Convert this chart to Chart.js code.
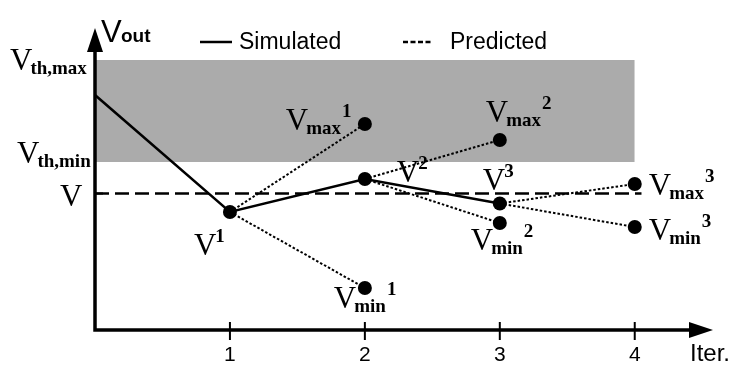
<!DOCTYPE html>
<html>
<head>
<meta charset="utf-8">
<script src="https://cdn.jsdelivr.net/npm/chart.js@4/dist/chart.umd.min.js"></script>
<style>
  html,body{margin:0;padding:0;background:#fff;}
  #wrap{width:739px;height:370px;}
</style>
</head>
<body>
<div id="wrap"><canvas id="grafico"></canvas></div>
<script>
// valores (unidades arbitrarias de Vout)
var iteraciones = [0, 1, 2, 3];
var simulado = [23.5, 11.8, 15.1, 12.65];
var iterPrediccion = [2, 3, 4];
var predMax = [20.6, 19.0, 14.6];
var predMin = [4.2, 10.7, 10.3];
var vThMax = 27.0;
var vThMin = 16.8;
var vObjetivo = 13.65;
var ticksX = [1, 2, 3, 4];
var finBanda = 4;
var finObjetivo = 4.05;

// desplazamientos de las etiquetas respecto a cada punto (px)
var offSim = [[-36, 43], [32, 3], [-17, -14]];
var offMax = [[-79, 6], [-14, -18], [14, 11]];
var offMin = [[-31, 20], [-29, 27], [14, 13]];

var serif = '"Liberation Serif","Times New Roman",serif';
var sans = '"Liberation Sans",Arial,sans-serif';

function pares(xs, ys){
    var res = [];
    for(var i=0;i<xs.length;i++){ res.push({x:xs[i], y:ys[i]}); }
    return res;
}

var datasets = [];
// puntos
var puntos = [];
for(var i=1;i<iteraciones.length;i++){ puntos.push({x:iteraciones[i], y:simulado[i]}); }
for(var i=0;i<iterPrediccion.length;i++){
    puntos.push({x:iterPrediccion[i], y:predMax[i]});
    puntos.push({x:iterPrediccion[i], y:predMin[i]});
}
datasets.push({data:puntos, showLine:false, pointRadius:7, pointBackgroundColor:"#000", pointBorderWidth:0, order:0});
// simulado
datasets.push({data:pares(iteraciones, simulado), showLine:true, borderColor:"#000", borderWidth:2.5, pointRadius:0, order:1});
// segmentos predichos
for(var i=0;i<iterPrediccion.length;i++){
    var origen = {x:iteraciones[i+1], y:simulado[i+1]};
    datasets.push({data:[origen, {x:iterPrediccion[i], y:predMax[i]}], showLine:true, borderColor:"#000", borderWidth:2, borderDash:[2.5,2], pointRadius:0, order:2});
    datasets.push({data:[origen, {x:iterPrediccion[i], y:predMin[i]}], showLine:true, borderColor:"#000", borderWidth:2, borderDash:[2.5,2], pointRadius:0, order:2});
}
// linea objetivo V
datasets.push({data:[{x:0,y:vObjetivo},{x:finObjetivo,y:vObjetivo}], showLine:true, borderColor:"#000", borderWidth:2.5, borderDash:[14,6], pointRadius:0, order:3});
// banda gris
datasets.push({data:[{x:0,y:vThMax},{x:finBanda,y:vThMax}], showLine:true, borderWidth:0, borderColor:"rgba(0,0,0,0)", backgroundColor:"#ababab", fill:"+1", pointRadius:0, order:10});
datasets.push({data:[{x:0,y:vThMin},{x:finBanda,y:vThMin}], showLine:true, borderWidth:0, borderColor:"rgba(0,0,0,0)", pointRadius:0, fill:false, order:10});

function dibujaV(ctx, x, base, sub, sup){
    ctx.fillStyle = "#000";
    ctx.textAlign = "left";
    ctx.textBaseline = "alphabetic";
    ctx.font = "31px " + serif;
    ctx.fillText("V", x, base);
    var xx = x + ctx.measureText("V").width - 2;
    if(sub){
        ctx.font = "bold 19px " + serif;
        ctx.fillText(sub, xx, base + 4);
        xx += ctx.measureText(sub).width + 1;
    } else {
        xx += 1;
    }
    if(sup){
        ctx.font = "bold 19px " + serif;
        ctx.fillText(sup, xx, base - 13);
    }
}

var decoracion = {
    id: "decoracion",
    afterDraw: function(chart){
        var ctx = chart.ctx;
        var sx = chart.scales.x, sy = chart.scales.y;
        var x0 = sx.getPixelForValue(0), y0 = sy.getPixelForValue(0);
        var top = chart.chartArea.top, right = chart.chartArea.right;
        ctx.save();
        ctx.strokeStyle = "#000"; ctx.fillStyle = "#000";
        ctx.lineWidth = 3.5;
        ctx.beginPath();
        ctx.moveTo(x0, top + 20); ctx.lineTo(x0, y0); ctx.lineTo(right - 20, y0);
        ctx.stroke();
        // flechas
        ctx.beginPath();
        ctx.moveTo(x0, top); ctx.lineTo(x0 - 8, top + 24); ctx.lineTo(x0 + 8, top + 24); ctx.closePath(); ctx.fill();
        ctx.beginPath();
        ctx.moveTo(right, y0); ctx.lineTo(right - 24, y0 - 8); ctx.lineTo(right - 24, y0 + 8); ctx.closePath(); ctx.fill();
        // ticks
        ctx.lineWidth = 2;
        ctx.font = "21px " + sans;
        ctx.textAlign = "center";
        ticksX.forEach(function(t){
            var px = sx.getPixelForValue(t);
            ctx.beginPath(); ctx.moveTo(px, y0 - 8); ctx.lineTo(px, y0 + 10); ctx.stroke();
            ctx.fillText(String(t), px, y0 + 31);
        });
        ctx.textAlign = "left";
        ctx.font = "24px " + sans;
        ctx.fillText("Iter.", right - 23, y0 + 31);
        var pv = sy.getPixelForValue(vObjetivo);
        ctx.beginPath(); ctx.moveTo(x0, pv); ctx.lineTo(x0 + 8, pv); ctx.stroke();
        // Vout
        ctx.font = "31px " + sans;
        ctx.fillText("V", x0 + 6, 42);
        ctx.font = "bold 19px " + sans;
        ctx.fillText("out", x0 + 26, 42);
        // etiquetas eje y
        dibujaV(ctx, 10, sy.getPixelForValue(vThMax) + 10, "th,max");
        dibujaV(ctx, 17, sy.getPixelForValue(vThMin) + 1, "th,min");
        dibujaV(ctx, 60, pv + 12.5);
        // leyenda
        ctx.lineWidth = 2.5;
        ctx.beginPath(); ctx.moveTo(200, 42); ctx.lineTo(232, 42); ctx.stroke();
        ctx.setLineDash([5,2.5]);
        ctx.beginPath(); ctx.moveTo(403, 42); ctx.lineTo(431, 42); ctx.stroke();
        ctx.setLineDash([]);
        ctx.font = "23px " + sans;
        ctx.fillText("Simulated", 239, 49);
        ctx.fillText("Predicted", 450, 49);
        // etiquetas de puntos
        for(var k=1;k<iteraciones.length;k++){
            var px = sx.getPixelForValue(iteraciones[k]), py = sy.getPixelForValue(simulado[k]);
            dibujaV(ctx, px + offSim[k-1][0], py + offSim[k-1][1], null, String(k));
        }
        for(var k=0;k<iterPrediccion.length;k++){
            var px = sx.getPixelForValue(iterPrediccion[k]);
            var pm = sy.getPixelForValue(predMax[k]), pn = sy.getPixelForValue(predMin[k]);
            dibujaV(ctx, px + offMax[k][0], pm + offMax[k][1], "max", String(k+1));
            dibujaV(ctx, px + offMin[k][0], pn + offMin[k][1], "min", String(k+1));
        }
        ctx.restore();
    }
};

var ctx = document.getElementById("grafico").getContext("2d");
var chart = new Chart(ctx, {
    type: "scatter",
    data: {datasets: datasets},
    options: {
        responsive: true,
        maintainAspectRatio: false,
        animation: false,
        layout: {padding: {left:95, top:28, right:26, bottom:40}},
        plugins: {legend:{display:false}, tooltip:{enabled:false}},
        scales: {
            x: {type:"linear", min:0, max:4.58, display:false},
            y: {type:"linear", min:0, max:30.2, display:false}
        }
    },
    plugins: [decoracion]
});
</script>
</body>
</html>
